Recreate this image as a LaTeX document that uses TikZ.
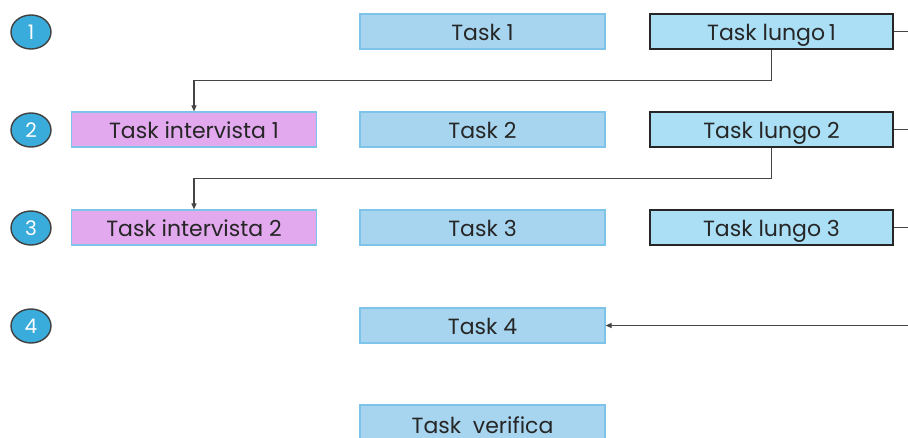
\documentclass[tikz,border=0pt]{standalone}
\usepackage{fontspec}
\setmainfont{Poppins}
\usetikzlibrary{arrows.meta,shapes.geometric}
\definecolor{taskfill}{HTML}{A7D5EF}
\definecolor{taskdraw}{HTML}{7EC3E8}
\definecolor{longfill}{HTML}{AADFF5}
\definecolor{violfill}{HTML}{E2A9EF}
\definecolor{circfill}{HTML}{3AACDB}
\definecolor{linecol}{HTML}{454545}
\tikzset{
  box/.style={minimum width=245pt,minimum height=35pt,inner sep=0pt,font=\fontsize{22}{22}\selectfont,text=black!85,text height=18.5pt,text depth=1.5pt},
  taskbox/.style={box,fill=taskfill,draw=taskdraw,line width=1.2pt},
  longbox/.style={box,fill=longfill,draw=black!85,line width=1.6pt},
  viobox/.style={box,fill=violfill,draw=taskdraw,line width=1.2pt},
  numc/.style={ellipse,minimum width=40pt,minimum height=34pt,inner sep=0pt,fill=circfill,draw=black!75,line width=1.4pt,text=white,font=\fontsize{20}{20}\selectfont,text height=16pt,text depth=1pt},
  conn/.style={draw=linecol,line width=1.1pt},
  arr/.style={conn,-{Triangle[length=6pt,width=5pt]}}
}
\begin{document}
\begin{tikzpicture}[x=1pt,y=-1pt]
\useasboundingbox (0,0) rectangle (908,437);
\clip (0,0) rectangle (908,437);
\fill[white] (0,0) rectangle (908,437);
\node[numc] (c1) at (31,32) {1};
\node[numc] (c2) at (31,130) {2};
\node[numc] (c3) at (31,228) {3};
\node[numc] (c4) at (31,326) {4};
\node[taskbox] (t1) at (482.5,31.5) {Task 1};
\node[taskbox] (t2) at (482.5,129.5) {Task 2};
\node[taskbox] (t3) at (482.5,227.5) {Task 3};
\node[taskbox] (t4) at (482.5,325.5) {Task 4};
\node[taskbox,minimum height=40pt] (tv) at (482.5,425) {Task~~verifica};
\node[longbox,minimum width=243pt] (l1) at (771.5,31.5) {Task lungo\,1};
\node[longbox,minimum width=243pt] (l2) at (771.5,129.5) {Task lungo 2};
\node[longbox,minimum width=243pt] (l3) at (771.5,227.5) {Task lungo 3};
\node[viobox] (i1) at (194,129.5) {Task intervista 1};
\node[viobox] (i2) at (194,227.5) {Task intervista 2};
\coordinate (e1) at (912,31.5);
\coordinate (e2) at (912,129.5);
\coordinate (e3) at (912,227.5);
\coordinate (e4) at (912,325.5);
\draw[conn] (l1.east) -- (e1);
\draw[conn] (l2.east) -- (e2);
\draw[conn] (l3.east) -- (e3);
\draw[arr] (e4) -- (t4.east);
\draw[arr] (l1.south) -- ++(0,31) -| (i1.north);
\draw[arr] (l2.south) -- ++(0,31) -| (i2.north);
\end{tikzpicture}
\end{document}
